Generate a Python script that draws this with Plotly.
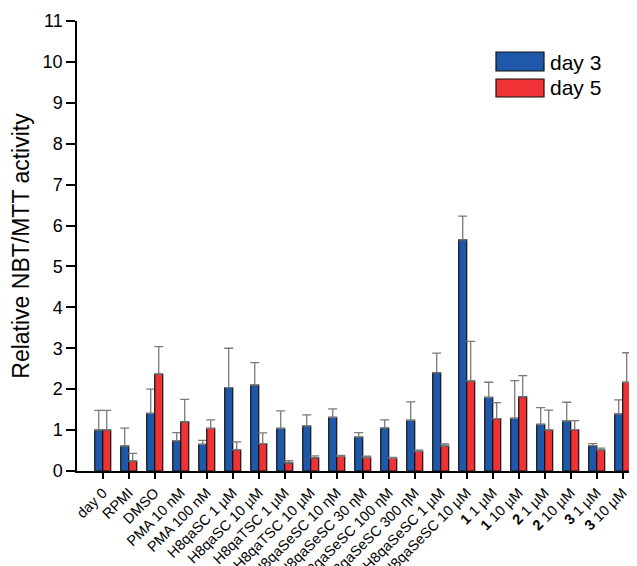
import plotly.graph_objects as go

categories = ["day 0", "RPMI", "DMSO", "PMA 10 nM", "PMA 100 nM",
              "H8qaSC 1 µM", "H8qaSC 10 µM", "H8qaTSC 1 µM", "H8qaTSC 10 µM",
              "H8qaSeSC 10 ηM", "H8qaSeSC 30 ηM", "H8qaSeSC 100 ηM", "H8qaSeSC 300 ηM",
              "H8qaSeSC 1 µM", "H8qaSeSC 10 µM",
              "<b>1</b> 1 µM", "<b>1</b> 10 µM", "<b>2</b> 1 µM", "<b>2</b> 10 µM",
              "<b>3</b> 1 µM", "<b>3</b> 10 µM"]

day3 = [1.00, 0.61, 1.41, 0.74, 0.65, 2.04, 2.10, 1.04, 1.10, 1.31, 0.83,
        1.05, 1.24, 2.40, 5.65, 1.80, 1.29, 1.14, 1.22, 0.62, 1.39]
day3_err_top = [1.48, 1.05, 2.00, 0.94, 0.75, 3.00, 2.65, 1.47, 1.37, 1.52, 0.94,
                1.25, 1.69, 2.88, 6.23, 2.17, 2.21, 1.55, 1.68, 0.67, 1.74]
day5 = [1.00, 0.24, 2.37, 1.20, 1.04, 0.52, 0.67, 0.20, 0.32, 0.36, 0.33,
        0.31, 0.48, 0.61, 2.20, 1.28, 1.81, 1.00, 1.01, 0.51, 2.17]
day5_err_top = [1.48, 0.43, 3.04, 1.75, 1.25, 0.71, 0.93, 0.25, 0.37, 0.38, 0.36,
                0.33, 0.51, 0.66, 3.17, 1.67, 2.33, 1.49, 1.23, 0.56, 2.89]

series_names = ["day 3", "day 5"]
blue = "#1f58a8"
red = "#ee3236"
font_family = "Arial, Liberation Sans, sans-serif"

x_idx = list(range(len(categories)))
err3 = [t - v for t, v in zip(day3_err_top, day3)]
err5 = [t - v for t, v in zip(day5_err_top, day5)]

fig = go.Figure()
for name, vals, errs, col in [(series_names[0], day3, err3, blue),
                              (series_names[1], day5, err5, red)]:
    fig.add_trace(go.Bar(
        x=x_idx, y=vals, name=name,
        marker=dict(color=col, line=dict(color="#111111", width=1.2)),
        error_y=dict(type="data", array=errs, arrayminus=[0] * len(errs),
                     symmetric=False, color="#7a7a7a", thickness=1.3, width=4.5),
    ))

# page body has an 8px margin; figure is sized/offset to compensate
OFF = 8
W, H = 637 - OFF, 566 - OFF
L, R, T, B = 77 - OFF, 0, 21 - OFF, 95

def px(x):
    return (x - OFF - L) / (W - L - R)

def py(y):
    return 1 - (y - OFF - T) / (H - T - B)

shapes = [
    dict(type="rect", xref="paper", yref="paper", x0=px(496), x1=px(544),
         y0=py(71), y1=py(52), fillcolor=blue, line=dict(color="#111111", width=1.2)),
    dict(type="rect", xref="paper", yref="paper", x0=px(496), x1=px(544),
         y0=py(97), y1=py(79), fillcolor=red, line=dict(color="#111111", width=1.2)),
]
annotations = [
    dict(text=series_names[0], xref="paper", yref="paper", x=px(548), y=py(62),
         xanchor="left", yanchor="middle", showarrow=False,
         font=dict(size=21, color="black", family=font_family)),
    dict(text=series_names[1], xref="paper", yref="paper", x=px(548), y=py(88),
         xanchor="left", yanchor="middle", showarrow=False,
         font=dict(size=21, color="black", family=font_family)),
]

fig.update_layout(
    width=W, height=H,
    margin=dict(l=L, r=R, t=T, b=B, autoexpand=False),
    paper_bgcolor="white", plot_bgcolor="white",
    barmode="group", bargap=0.385, bargroupgap=0,
    showlegend=False,
    font=dict(family=font_family, color="black"),
    shapes=shapes, annotations=annotations,
)
fig.update_xaxes(
    range=[-0.99, 20.55], tickmode="array", tickvals=x_idx, ticktext=categories,
    tickangle=-45, tickfont=dict(size=14.5, family=font_family),
    ticks="outside", ticklen=6, tickwidth=1.5, tickcolor="black",
    showline=True, linecolor="black", linewidth=1.5,
    showgrid=False, zeroline=False, automargin=False,
)
fig.update_yaxes(
    range=[0, 11], tickmode="array", tickvals=list(range(0, 12)),
    tickfont=dict(size=18, family=font_family),
    ticks="outside", ticklen=9, tickwidth=1.5, tickcolor="black",
    showline=True, linecolor="black", linewidth=1.5,
    showgrid=False, zeroline=False, automargin=False,
    title=dict(text="Relative NBT/MTT activity", font=dict(size=23, family=font_family),
               standoff=10),
)

fig.write_html("out.html")
